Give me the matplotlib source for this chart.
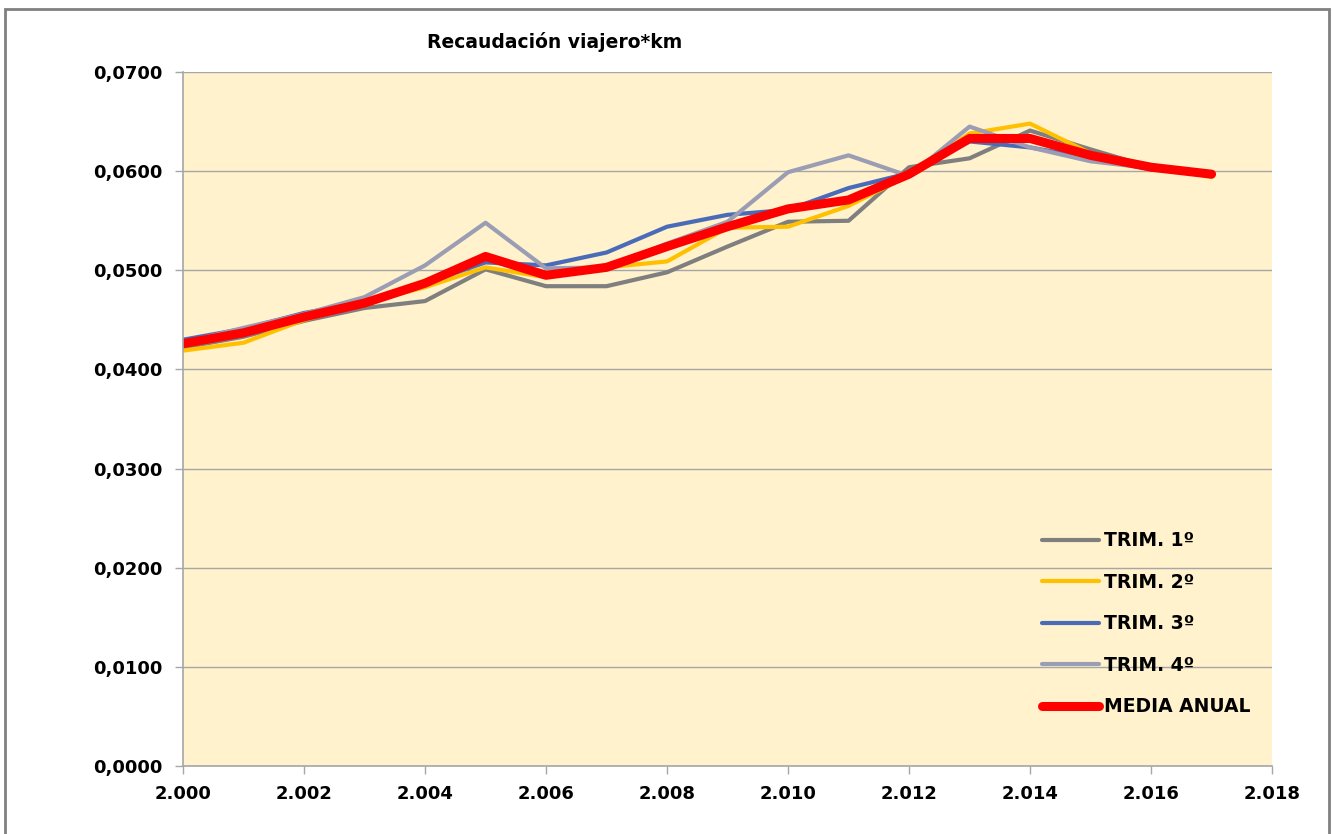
import matplotlib.pyplot as plt
from matplotlib.patches import Rectangle
from matplotlib.ticker import FuncFormatter

years = list(range(2000, 2018))

trim1 = [0.0422, 0.0433, 0.0449, 0.0462, 0.0469, 0.0501, 0.0484, 0.0484, 0.0498,
         0.0524, 0.0549, 0.0550, 0.0604, 0.0613, 0.0641, 0.0622, 0.0604, 0.0597]
trim2 = [0.0419, 0.0427, 0.0450, 0.0467, 0.0483, 0.0503, 0.0493, 0.0503, 0.0509,
         0.0543, 0.0544, 0.0565, 0.0596, 0.0638, 0.0648, 0.0618, 0.0606, 0.0594]
trim3 = [0.0430, 0.0441, 0.0457, 0.0468, 0.0487, 0.0508, 0.0505, 0.0518, 0.0544,
         0.0556, 0.0561, 0.0583, 0.0598, 0.0630, 0.0624, 0.0613, 0.0602, 0.0597]
trim4 = [0.0427, 0.0442, 0.0456, 0.0473, 0.0505, 0.0548, 0.0502, 0.0503, 0.0527,
         0.0549, 0.0599, 0.0616, 0.0595, 0.0645, 0.0624, 0.0610, 0.0603, 0.0597]
media = [0.0426, 0.0437, 0.0453, 0.0467, 0.0487, 0.0514, 0.0495, 0.0503, 0.0524,
         0.0544, 0.0562, 0.0571, 0.0597, 0.0633, 0.0633, 0.0616, 0.0604, 0.0597]

labels = ['TRIM. 1º', 'TRIM. 2º', 'TRIM. 3º', 'TRIM. 4º', 'MEDIA ANUAL']
colors = ['#7F7F7F', '#FFC000', '#4A6CB8', '#9A9DB4', '#FF0000']
widths = [3, 3, 3, 3, 6.5]

fig = plt.figure(figsize=(13.33, 8.34), dpi=100)
fig.patch.set_facecolor('white')

# outer chart frame
fig.patches.append(Rectangle((0.004, -0.01), 0.993, 0.999, transform=fig.transFigure,
                             fill=False, edgecolor='#808080', linewidth=2))

ax = fig.add_axes([0.1373, 0.0815, 0.8170, 0.8321])
ax.set_facecolor('#FFF2CC')

for series, lab, col, lw in zip([trim1, trim2, trim3, trim4, media], labels, colors, widths):
    ax.plot(years, series, color=col, linewidth=lw, label=lab,
            solid_capstyle='round', solid_joinstyle='round')

ax.set_xlim(2000, 2018)
ax.set_ylim(0, 0.07)
ax.set_xticks(range(2000, 2019, 2))
ax.set_yticks([i * 0.01 for i in range(8)])
ax.xaxis.set_major_formatter(FuncFormatter(lambda v, p: '2.%03d' % (int(round(v)) - 2000)))
ax.yaxis.set_major_formatter(FuncFormatter(lambda v, p: ('%.4f' % v).replace('.', ',')))
ax.grid(axis='y', color='#A6A6A6', linewidth=1)
ax.set_axisbelow(True)

for s in ['top', 'right']:
    ax.spines[s].set_visible(False)
for s in ['left', 'bottom']:
    ax.spines[s].set_color('#A6A6A6')
    ax.spines[s].set_linewidth(1.2)
ax.tick_params(axis='both', colors='#A6A6A6', labelcolor='black', length=6, width=1)
for t in ax.get_xticklabels() + ax.get_yticklabels():
    t.set_fontweight('bold')
    t.set_fontsize(13)
ax.tick_params(axis='x', pad=8)
ax.tick_params(axis='y', pad=9)

fig.text(0.32, 0.943, 'Recaudación viajero*km', fontsize=13.5, fontweight='bold')

leg = ax.legend(loc='lower left', bbox_to_anchor=(0.789, 0.072), frameon=False,
                fontsize=13.5, handlelength=3.0, labelspacing=1.2, handletextpad=0.3,
                borderpad=0, borderaxespad=0)
for t in leg.get_texts():
    t.set_fontweight('bold')

fig.savefig('out.png', dpi=100)
